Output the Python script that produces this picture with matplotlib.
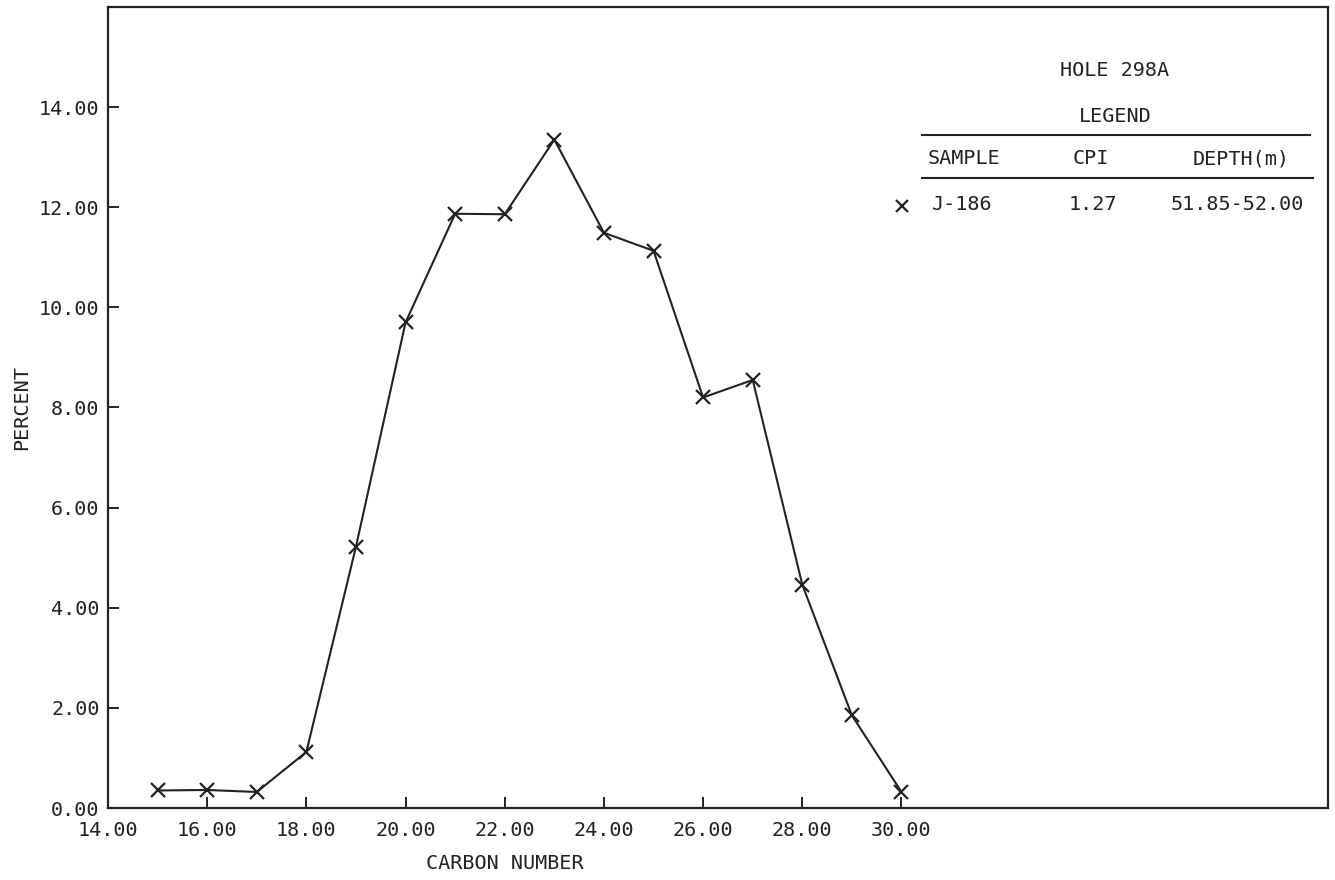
import matplotlib
matplotlib.use("Agg")
import matplotlib.pyplot as plt

carbon = [15, 16, 17, 18, 19, 20, 21, 22, 23, 24, 25, 26, 27, 28, 29, 30]
percent = [0.35, 0.36, 0.32, 1.12, 5.22, 9.70, 11.87, 11.86, 13.35, 11.49,
           11.13, 8.20, 8.55, 4.46, 1.85, 0.32]
xticks = [14, 16, 18, 20, 22, 24, 26, 28, 30]
yticks = [0, 2, 4, 6, 8, 10, 12, 14]

title_text = "HOLE 298A"
legend_title = "LEGEND"
col_headers = ["SAMPLE", "CPI", "DEPTH(m)"]
row_values = ["J-186", "1.27", "51.85-52.00"]

plt.rcParams['font.family'] = ['DejaVu Sans Mono', 'DejaVu Sans']
FS = 14.5
INK = '#222222'

W, H = 1335, 880
fig = plt.figure(figsize=(W / 100, H / 100), dpi=100)
ax = fig.add_axes([108 / W, (H - 808) / H, 1220 / W, 801 / H])

ax.plot(carbon, percent, color=INK, lw=1.5, marker='x', ms=9.5, mew=1.6,
        clip_on=False)

ax.set_xlim(14, 38.6)
ax.set_ylim(0, 16)
ax.set_xticks(xticks)
ax.set_xticklabels([f"{v:.2f}" for v in xticks])
ax.set_yticks(yticks)
ax.set_yticklabels([f"{v:.2f}" for v in yticks])
ax.tick_params(direction='in', length=8, width=1.4, color=INK,
               labelsize=FS, labelcolor=INK)
ax.tick_params(axis='x', pad=9)
ax.tick_params(axis='y', pad=6)
for s in ax.spines.values():
    s.set_linewidth(1.6)
    s.set_color(INK)

ax.set_ylabel("PERCENT", fontsize=FS, color=INK, labelpad=6)
ax.text(22, -1.1, "CARBON NUMBER", fontsize=FS, color=INK,
        ha='center', va='center', transform=ax.transData)


def fp(px, py):
    return px / W, 1 - py / H


tf = fig.transFigure
fig.text(*fp(1115, 71), title_text, fontsize=FS, color=INK, ha='center', va='center')
fig.text(*fp(1115, 116), legend_title, fontsize=FS, color=INK, ha='center', va='center')
fig.add_artist(plt.Line2D([922 / W, 1310 / W], [1 - 135 / H] * 2, color=INK, lw=1.5, transform=tf))
fig.add_artist(plt.Line2D([922 / W, 1313 / W], [1 - 178 / H] * 2, color=INK, lw=1.5, transform=tf))
fig.text(*fp(928, 159), col_headers[0], fontsize=FS, color=INK, ha='left', va='center')
fig.text(*fp(1091, 159), col_headers[1], fontsize=FS, color=INK, ha='center', va='center')
fig.text(*fp(1290, 159), col_headers[2], fontsize=FS, color=INK, ha='right', va='center')
fig.add_artist(plt.Line2D([902 / W], [1 - 206 / H], color=INK, marker='x', ms=8,
                          mew=1.6, lw=0, transform=tf))
fig.text(*fp(932, 205), row_values[0], fontsize=FS, color=INK, ha='left', va='center')
fig.text(*fp(1093, 205), row_values[1], fontsize=FS, color=INK, ha='center', va='center')
fig.text(*fp(1304, 205), row_values[2], fontsize=FS, color=INK, ha='right', va='center')

fig.savefig("out.png", dpi=100)
